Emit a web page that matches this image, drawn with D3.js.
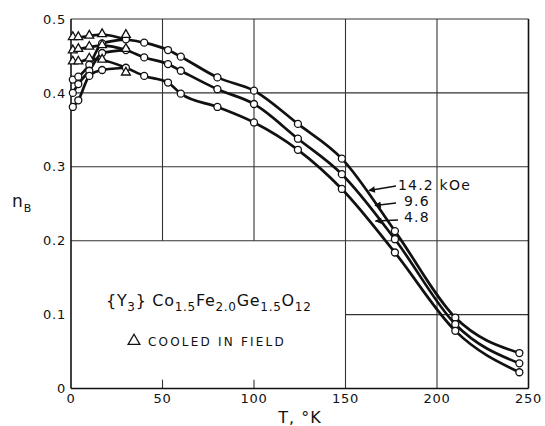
<!DOCTYPE html>
<html><head><meta charset="utf-8">
<script src="https://cdn.jsdelivr.net/npm/d3@7"></script>
<style>
html,body{margin:0;padding:0;background:#fff;}
svg{display:block;}
text{font-family:"DejaVu Sans",sans-serif;fill:#111;}
</style></head>
<body><svg id="c" width="545" height="426"></svg>
<script>
// ---- data ----
const seriesNames = ["14.2 kOe", "9.6", "4.8"];
// zero-field-cooled circles
const circleT14 = [1, 4, 10, 17, 30, 40, 53, 60, 80, 100, 124, 148, 177, 210, 245];
const circleN14 = [0.418, 0.422, 0.438, 0.467, 0.4725, 0.468, 0.458, 0.449, 0.421, 0.403, 0.358, 0.311, 0.213, 0.096, 0.048];
const circleT96 = [1, 4, 10, 17, 30, 40, 53, 60, 80, 100, 124, 148, 177, 210, 245];
const circleN96 = [0.400, 0.412, 0.430, 0.454, 0.458, 0.448, 0.439, 0.430, 0.405, 0.385, 0.338, 0.290, 0.202, 0.087, 0.034];
const circleT48 = [1, 4, 10, 17, 30, 40, 53, 60, 80, 100, 124, 148, 177, 210, 245];
const circleN48 = [0.381, 0.390, 0.423, 0.431, 0.434, 0.423, 0.414, 0.399, 0.381, 0.360, 0.323, 0.270, 0.184, 0.078, 0.022];
// field-cooled triangles
const triT = [1, 4, 10, 17, 30];
const triN14 = [0.475, 0.475, 0.477, 0.479, 0.478];
const triN96 = [0.457, 0.459, 0.462, 0.464, 0.459];
const triN48 = [0.442, 0.442, 0.446, 0.4445, 0.427];
const xTicks = [0, 50, 100, 150, 200, 250];
const yTicks = [0, 0.1, 0.2, 0.3, 0.4, 0.5];
const yTickLabels = ["0", "0.1", "0.2", "0.3", "0.4", "0.5"];

// ---- layout ----
const svg = d3.select("#c");
const x = d3.scaleLinear().domain([0, 250]).range([71, 528.5]);
const y = d3.scaleLinear().domain([0, 0.5]).range([388.5, 19]);
const ink = "#111";

// grid (partial, as on the original graph paper)
const g = svg.append("g").attr("stroke", "#333").attr("stroke-width", 1.1).attr("fill", "none");
function hline(v, t0, t1) { g.append("line").attr("x1", x(t0)).attr("x2", x(t1)).attr("y1", y(v)).attr("y2", y(v)); }
function vline(t, v0, v1) { g.append("line").attr("x1", x(t)).attr("x2", x(t)).attr("y1", y(v0)).attr("y2", y(v1)); }
hline(0.5, 0, 250);
hline(0.4, 0, 250);
hline(0.3, 0, 250);
hline(0.2, 0, 250);
hline(0.1, 150, 250);
vline(50, 0.2, 0.5);
vline(100, 0.2, 0.5);
vline(150, 0, 0.5);
vline(200, 0, 0.5);
vline(50, 0, 0.012);
vline(100, 0, 0.012);
// frame
const fr = svg.append("g").attr("stroke", ink).attr("stroke-width", 1.6).attr("fill", "none");
fr.append("line").attr("x1", x(0)).attr("x2", x(0)).attr("y1", y(0)).attr("y2", y(0.5));
fr.append("line").attr("x1", x(250)).attr("x2", x(250)).attr("y1", y(0)).attr("y2", y(0.5));
fr.append("line").attr("x1", x(0)).attr("x2", x(250)).attr("y1", y(0)).attr("y2", y(0));

// tick labels
svg.append("g").selectAll("text").data(yTicks).join("text")
  .attr("x", 66).attr("y", d => y(d)).attr("dy", "0.36em")
  .attr("text-anchor", "end").attr("font-size", 13).attr("letter-spacing", 0.8)
  .text((d, i) => yTickLabels[i]);
svg.append("g").selectAll("text").data(xTicks).join("text")
  .attr("x", d => x(d)).attr("y", 403)
  .attr("text-anchor", "middle").attr("font-size", 13).attr("letter-spacing", 0.8)
  .text(d => d);
// axis titles
svg.append("text").attr("x", 300).attr("y", 423).attr("text-anchor", "middle")
  .attr("font-size", 16).attr("letter-spacing", 1).text("T, °K");
const yl = svg.append("text").attr("x", 12).attr("y", 207).attr("font-size", 17);
yl.append("tspan").text("n");
yl.append("tspan").attr("font-size", 11).attr("dy", 5).attr("dx", 1).text("B");

// ---- curves ----
const line = d3.line().x(d => x(d[0])).y(d => y(d[1])).curve(d3.curveMonotoneX);
const sets = [
  {ct: circleT14, cn: circleN14, tn: triN14},
  {ct: circleT96, cn: circleN96, tn: triN96},
  {ct: circleT48, cn: circleN48, tn: triN48}
];
const curves = svg.append("g").attr("fill", "none").attr("stroke", ink).attr("stroke-width", 2.7)
  .attr("stroke-linejoin", "round").attr("stroke-linecap", "round");
sets.forEach(s => {
  const circ = s.ct.map((t, i) => [t, s.cn[i]]);
  const fc = triT.slice(0, 4).map((t, i) => [t, s.tn[i]]).concat(circ.filter(d => d[0] >= 30));
  const zfc = circ.filter(d => d[0] <= 30);
  curves.append("path").attr("d", line(fc));
  curves.append("path").attr("d", line(zfc));
});
// markers
const mk = svg.append("g").attr("fill", "#fff").attr("stroke", ink).attr("stroke-width", 1.3);
sets.forEach(s => {
  mk.append("g").selectAll("circle").data(s.ct.map((t, i) => [t, s.cn[i]])).join("circle")
    .attr("cx", d => x(d[0])).attr("cy", d => y(d[1])).attr("r", 3.5);
  mk.append("g").selectAll("path").data(triT.map((t, i) => [t, s.tn[i]])).join("path")
    .attr("d", d3.symbol(d3.symbolTriangle, 34))
    .attr("transform", d => `translate(${x(d[0])},${y(d[1]) - 0.5})`);
});

// ---- labels with arrows ----
const labels = [
  {text: "14.2 kOe", tx: 398, ty: 190, ax0: 396, ay0: 186, ax1: 369, ay1: 190.5},
  {text: "9.6", tx: 404, ty: 206, ax0: 396, ay0: 203, ax1: 375, ay1: 205.5},
  {text: "4.8", tx: 404, ty: 222, ax0: 398, ay0: 220, ax1: 375.5, ay1: 221}
];
svg.append("defs").append("marker").attr("id", "ah").attr("viewBox", "0 0 10 10")
  .attr("refX", 9).attr("refY", 5).attr("markerWidth", 7).attr("markerHeight", 5)
  .attr("orient", "auto").append("path").attr("d", "M0,0 L10,5 L0,10 z").attr("fill", ink);
labels.forEach(l => {
  svg.append("line").attr("x1", l.ax0).attr("y1", l.ay0).attr("x2", l.ax1).attr("y2", l.ay1)
    .attr("stroke", ink).attr("stroke-width", 1.3).attr("marker-end", "url(#ah)");
  svg.append("text").attr("x", l.tx).attr("y", l.ty).attr("font-size", 14)
    .attr("letter-spacing", 1.2).text(l.text);
});

// compound label
const cl = svg.append("text").attr("x", 106).attr("y", 305.5).attr("font-size", 16).attr("letter-spacing", 0.7);
const parts = [["{Y", 0], ["3", 1], ["} Co", 0], ["1.5", 1], ["Fe", 0], ["2.0", 1], ["Ge", 0], ["1.5", 1], ["O", 0], ["12", 1]];
let sub = false;
parts.forEach(p => {
  const t = cl.append("tspan").text(p[0]);
  if (p[1] && !sub) { t.attr("font-size", 12).attr("dy", 5); sub = true; }
  else if (!p[1] && sub) { t.attr("dy", -5); sub = false; }
});
// cooled in field legend
svg.append("path").attr("d", d3.symbol(d3.symbolTriangle, 60))
  .attr("transform", "translate(134,341)").attr("fill", "#fff").attr("stroke", ink).attr("stroke-width", 1.3);
svg.append("text").attr("x", 148).attr("y", 346).attr("font-size", 12).attr("letter-spacing", 2.2)
  .text("COOLED IN FIELD");
</script></body></html>
